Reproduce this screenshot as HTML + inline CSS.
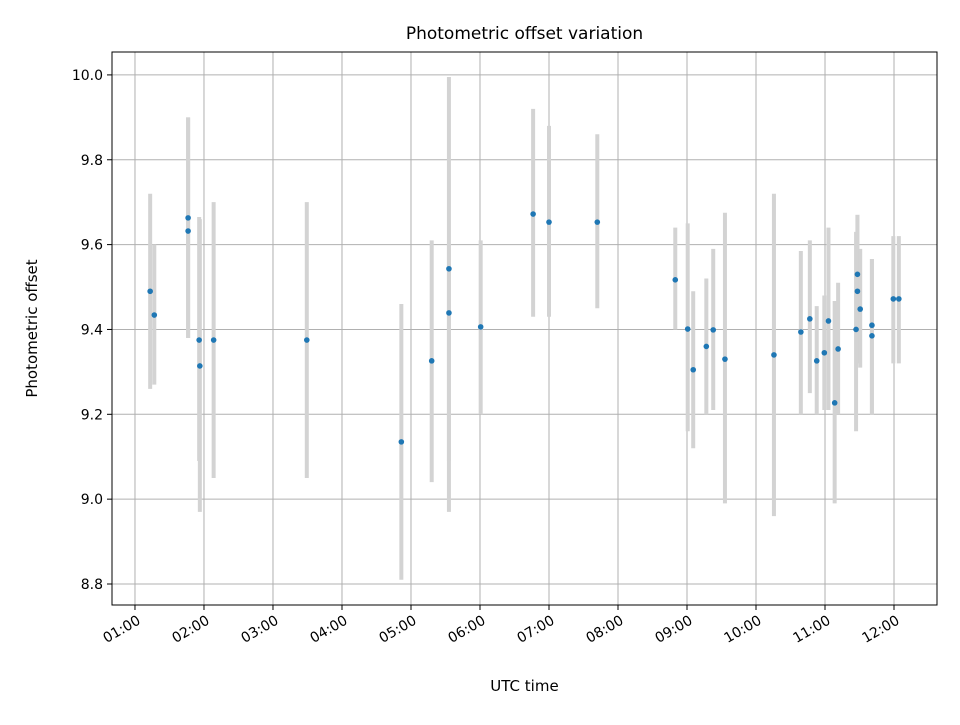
<!DOCTYPE html>
<html><head><meta charset="utf-8"><style>
body{margin:0;background:#fff}
svg text{font-family:"DejaVu Sans","Liberation Sans",sans-serif;fill:#000}
</style></head><body>
<svg id="chart" width="960" height="720" xmlns="http://www.w3.org/2000/svg">
<rect width="960" height="720" fill="#fff"/>
<g id="grid"></g><g id="bars"></g><g id="dots"></g><g id="axes"></g>
</svg>
<script>
const times=[1.22,1.28,1.77,1.77,1.93,1.94,2.14,3.49,4.86,5.30,5.55,5.55,6.01,6.77,7.00,7.70,8.83,9.01,9.09,9.28,9.38,9.55,10.26,10.65,10.78,10.88,10.99,11.05,11.14,11.19,11.45,11.47,11.47,11.51,11.68,11.68,11.99,12.07];
const values=[9.49,9.434,9.663,9.632,9.375,9.314,9.375,9.375,9.135,9.326,9.543,9.439,9.406,9.672,9.653,9.653,9.517,9.401,9.305,9.36,9.399,9.33,9.34,9.394,9.425,9.326,9.345,9.42,9.227,9.354,9.40,9.53,9.49,9.448,9.41,9.385,9.472,9.472];
const upper=[9.72,9.60,9.90,9.90,9.665,9.66,9.70,9.70,9.46,9.61,9.995,9.60,9.61,9.92,9.88,9.86,9.64,9.65,9.49,9.52,9.59,9.675,9.72,9.585,9.61,9.455,9.48,9.64,9.467,9.51,9.63,9.67,9.67,9.59,9.566,9.566,9.62,9.62];
const lower=[9.26,9.27,9.38,9.38,9.09,8.97,9.05,9.05,8.81,9.04,9.09,8.97,9.20,9.43,9.43,9.45,9.40,9.16,9.12,9.20,9.21,8.99,8.96,9.20,9.25,9.20,9.21,9.21,8.99,9.20,9.16,9.32,9.32,9.31,9.20,9.20,9.32,9.32];
const yTicks=[8.8,9.0,9.2,9.4,9.6,9.8,10.0];
const xTicks=[1,2,3,4,5,6,7,8,9,10,11,12];
const xTickLabels=["01:00","02:00","03:00","04:00","05:00","06:00","07:00","08:00","09:00","10:00","11:00","12:00"];

const L=112,R=937,T=52,B=605;
const xMin=0.667,xMax=12.623,yMin=8.7505,yMax=10.054;
const xs=v=>L+(v-xMin)/(xMax-xMin)*(R-L);
const ys=v=>B-(v-yMin)/(yMax-yMin)*(B-T);
const NS="http://www.w3.org/2000/svg";
function mk(tag,attrs,parent){const e=document.createElementNS(NS,tag);for(const k in attrs)e.setAttribute(k,attrs[k]);parent.appendChild(e);return e;}
const grid=document.getElementById('grid'),bars=document.getElementById('bars'),dots=document.getElementById('dots'),axes=document.getElementById('axes');

xTicks.forEach((t,i)=>{
 const x=xs(t);
 const g=mk('line',{x1:x,x2:x,y1:T,y2:B,stroke:'#b0b0b0','stroke-width':1},grid);
 
 
 const tk=mk('line',{x1:x,x2:x,y1:B,y2:B+5,stroke:'#000','stroke-width':1},axes);
 
 
 const tx=mk('text',{x:x+3,y:B+19,'font-size':14,'text-anchor':'end',transform:`rotate(-30 ${x+3} ${B+12})`},axes);
 tx.textContent=xTickLabels[i];
 
 
});
yTicks.forEach(t=>{
 const y=ys(t);
 const g=mk('line',{x1:L,x2:R,y1:y,y2:y,stroke:'#b0b0b0','stroke-width':1},grid);
 
 
 const tk=mk('line',{x1:L-5,x2:L,y1:y,y2:y,stroke:'#000','stroke-width':1},axes);
 
 
 const tx=mk('text',{x:L-9,y:y+5,'font-size':14,'text-anchor':'end'},axes);
 tx.textContent=t.toFixed(1);
 
 
});
times.forEach((t,i)=>{
 const x=xs(t);
 const b=mk('line',{x1:x,x2:x,y1:ys(upper[i]),y2:ys(lower[i]),stroke:'#d3d3d3','stroke-width':4},bars);
 
 
});
times.forEach((t,i)=>{
 const c=mk('circle',{cx:xs(t),cy:ys(values[i]),r:2.8,fill:'#1f77b4'},dots);
 
 
});
const fr=mk('rect',{x:L,y:T,width:R-L,height:B-T,fill:'none',stroke:'#000','stroke-width':1},axes);


const ti=mk('text',{x:(L+R)/2,y:39,'font-size':17,'text-anchor':'middle'},axes);
ti.textContent='Photometric offset variation';


const xl=mk('text',{x:(L+R)/2,y:691,'font-size':15,'text-anchor':'middle'},axes);
xl.textContent='UTC time';


const yl=mk('text',{x:37,y:(T+B)/2,'font-size':15,'text-anchor':'middle',transform:`rotate(-90 37 ${(T+B)/2})`},axes);
yl.textContent='Photometric offset';


</script>
</body></html>
